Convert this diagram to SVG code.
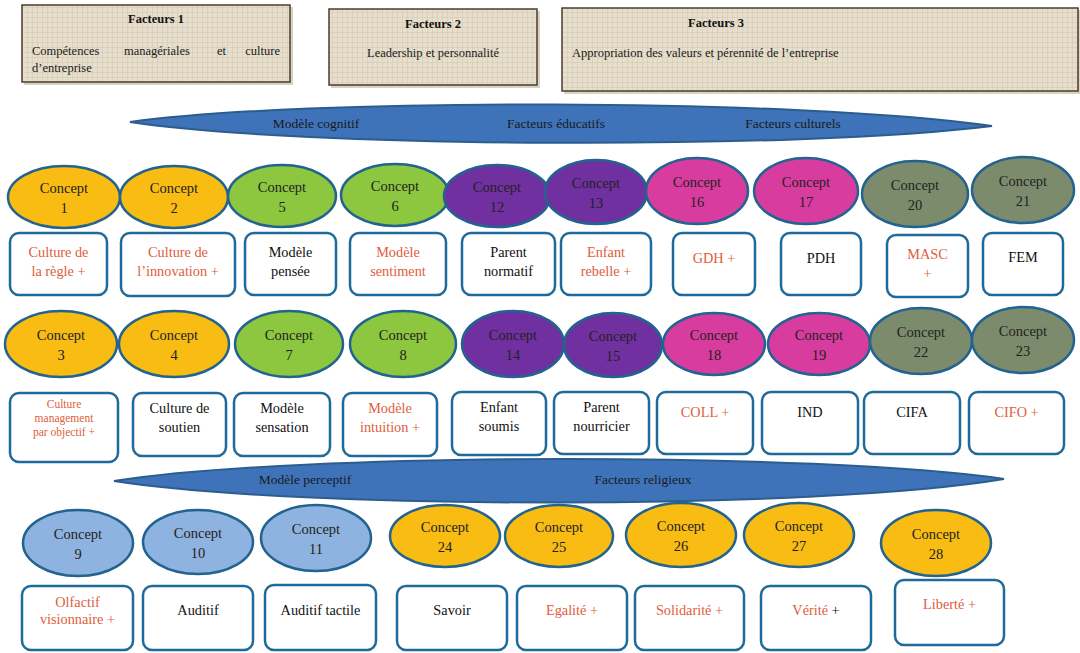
<svg xmlns="http://www.w3.org/2000/svg" width="1080" height="653" viewBox="0 0 1080 653">
<style>
.hdr{fill:url(#burlap);stroke:#4a3c2c;stroke-width:1.5}
.shd{fill:#cbbda5;opacity:0.7}
.ht{font-family:"Liberation Serif","Times New Roman",serif;font-size:12.5px;fill:#1a1a1a}
.hb{font-family:"Liberation Serif","Times New Roman",serif;font-size:12.5px;font-weight:bold;fill:#111;text-anchor:middle}
.band{fill:#3f73b9;stroke:#2b5d8e;stroke-width:2}
.bt{font-family:"Liberation Serif","Times New Roman",serif;font-size:13.5px;fill:#1a1a1a;text-anchor:middle}
.el{stroke:#22638f;stroke-width:2.5}
.or{fill:#f8bc12}.gr{fill:#8dc63f}.pu{fill:#7030a0}.mg{fill:#d93c9f}.gy{fill:#7c8b6c}.lb{fill:#8eb3e0}
.box{fill:#fff;stroke:#1f6a9a;stroke-width:2.5}
.ct{font-family:"Liberation Serif","Times New Roman",serif;font-size:14.5px;fill:#222;text-anchor:middle}
.k{font-family:"Liberation Serif","Times New Roman",serif;font-size:14.3px;fill:#111;text-anchor:middle}
.r{font-family:"Liberation Serif","Times New Roman",serif;font-size:14.3px;fill:#e05d3c;text-anchor:middle}
.rs{font-family:"Liberation Serif","Times New Roman",serif;font-size:11.5px;fill:#e05d3c;text-anchor:middle}
</style>
<defs>
<pattern id="burlap" width="5" height="5" patternUnits="userSpaceOnUse">
<rect width="5" height="5" fill="#e7dfcd"/>
<path d="M0 2.5H5M2.5 0V5" stroke="#d3c6ad" stroke-width="0.8" opacity="0.7"/>
</pattern>
</defs>

<g id="facteurs1">
<rect class="shd" x="24" y="7" width="269" height="78"/>
<rect class="hdr" x="22" y="5" width="268" height="77"/>
<text class="hb" x="156" y="23">Facteurs 1</text>
<text class="ht" y="55"><tspan x="32">Compétences</tspan><tspan x="124">managériales</tspan><tspan x="217">et</tspan><tspan x="280" text-anchor="end">culture</tspan></text>
<text class="ht" x="32" y="72">d’entreprise</text>
</g>
<g id="facteurs2">
<rect class="shd" x="331" y="11" width="209" height="77"/>
<rect class="hdr" x="329" y="9" width="208" height="76"/>
<text class="hb" x="433" y="28">Facteurs 2</text>
<text class="ht" x="433" y="57" text-anchor="middle">Leadership et personnalité</text>
</g>
<g id="facteurs3">
<rect class="shd" x="564" y="10" width="516" height="84"/>
<rect class="hdr" x="562" y="8" width="516" height="83"/>
<text class="hb" x="716" y="27">Facteurs 3</text>
<text class="ht" x="572" y="57">Appropriation des valeurs et pérennité de l’entreprise</text>
</g>

<g id="band-top">
<path class="band" d="M130,122 C300,98 800,98 992,126 C800,150 300,148 130,122 Z"/>
<text class="bt" x="316" y="128">Modèle cognitif</text>
<text class="bt" x="556" y="128">Facteurs éducatifs</text>
<text class="bt" x="793" y="128">Facteurs culturels</text>
</g>

<g id="band-bottom">
<path class="band" d="M114,481 C300,452 820,452 1004,479 C820,510 300,510 114,481 Z"/>
<text class="bt" x="305" y="484">Modèle perceptif</text>
<text class="bt" x="643" y="484">Facteurs religieux</text>
</g>

<g id="connectors"></g>

<!-- Row 1 -->
<g id="c1"><ellipse class="el or" cx="64" cy="197" rx="56" ry="31"/><text class="ct" x="64" y="193">Concept</text><text class="ct" x="64" y="213">1</text>
<rect class="box" x="10" y="233" width="97" height="62" rx="9"/><text class="r" x="58.5" y="257">Culture de</text><text class="r" x="58.5" y="276">la règle +</text></g>
<g id="c2"><ellipse class="el or" cx="174" cy="197" rx="54" ry="31"/><text class="ct" x="174" y="193">Concept</text><text class="ct" x="174" y="213">2</text>
<rect class="box" x="121" y="233" width="114" height="63" rx="9"/><text class="r" x="178" y="257">Culture de</text><text class="r" x="178" y="276">l’innovation +</text></g>
<g id="c5"><ellipse class="el gr" cx="282" cy="196" rx="54" ry="31"/><text class="ct" x="282" y="192">Concept</text><text class="ct" x="282" y="212">5</text>
<rect class="box" x="245" y="233" width="91" height="62" rx="9"/><text class="k" x="290.5" y="257">Modèle</text><text class="k" x="290.5" y="276">pensée</text></g>
<g id="c6"><ellipse class="el gr" cx="395" cy="195" rx="54" ry="31"/><text class="ct" x="395" y="191">Concept</text><text class="ct" x="395" y="211">6</text>
<rect class="box" x="350" y="233" width="96" height="62" rx="9"/><text class="r" x="398" y="257">Modèle</text><text class="r" x="398" y="276">sentiment</text></g>
<g id="c12"><ellipse class="el pu" cx="497" cy="196" rx="53" ry="31"/><text class="ct" x="497" y="192">Concept</text><text class="ct" x="497" y="212">12</text>
<rect class="box" x="462" y="233" width="93" height="62" rx="9"/><text class="k" x="508.5" y="257">Parent</text><text class="k" x="508.5" y="276">normatif</text></g>
<g id="c13"><ellipse class="el pu" cx="596" cy="192" rx="51" ry="32"/><text class="ct" x="596" y="188">Concept</text><text class="ct" x="596" y="208">13</text>
<rect class="box" x="561" y="233" width="90" height="62" rx="9"/><text class="r" x="606" y="257">Enfant</text><text class="r" x="606" y="276">rebelle +</text></g>
<g id="c16"><ellipse class="el mg" cx="697" cy="191" rx="51" ry="33"/><text class="ct" x="697" y="187">Concept</text><text class="ct" x="697" y="207">16</text>
<rect class="box" x="673" y="233" width="82" height="62" rx="9"/><text class="r" x="714" y="263">GDH +</text></g>
<g id="c17"><ellipse class="el mg" cx="806" cy="191" rx="52" ry="33"/><text class="ct" x="806" y="187">Concept</text><text class="ct" x="806" y="207">17</text>
<rect class="box" x="781" y="233" width="80" height="62" rx="9"/><text class="k" x="821" y="263">PDH</text></g>
<g id="c20"><ellipse class="el gy" cx="915" cy="194" rx="53" ry="33"/><text class="ct" x="915" y="190">Concept</text><text class="ct" x="915" y="210">20</text>
<rect class="box" x="887" y="235" width="81" height="62" rx="9"/><text class="r" x="927.5" y="259">MASC</text><text class="r" x="927.5" y="278">+</text></g>
<g id="c21"><ellipse class="el gy" cx="1023" cy="190" rx="51" ry="33"/><text class="ct" x="1023" y="186">Concept</text><text class="ct" x="1023" y="206">21</text>
<rect class="box" x="983" y="233" width="80" height="62" rx="9"/><text class="k" x="1023" y="262">FEM</text></g>

<!-- Row 2 -->
<g id="c3"><ellipse class="el or" cx="61" cy="344" rx="56" ry="33"/><text class="ct" x="61" y="340">Concept</text><text class="ct" x="61" y="360">3</text>
<rect class="box" x="10" y="393" width="108" height="69" rx="9"/><text class="rs" x="64" y="408">Culture</text><text class="rs" x="64" y="422">management</text><text class="rs" x="64" y="436">par objectif +</text></g>
<g id="c4"><ellipse class="el or" cx="174" cy="344" rx="55" ry="33"/><text class="ct" x="174" y="340">Concept</text><text class="ct" x="174" y="360">4</text>
<rect class="box" x="133" y="393" width="93" height="63" rx="9"/><text class="k" x="179.5" y="413">Culture de</text><text class="k" x="179.5" y="432">soutien</text></g>
<g id="c7"><ellipse class="el gr" cx="289" cy="344" rx="54" ry="33"/><text class="ct" x="289" y="340">Concept</text><text class="ct" x="289" y="360">7</text>
<rect class="box" x="234" y="393" width="96" height="63" rx="9"/><text class="k" x="282" y="413">Modèle</text><text class="k" x="282" y="432">sensation</text></g>
<g id="c8"><ellipse class="el gr" cx="403" cy="344" rx="53" ry="33"/><text class="ct" x="403" y="340">Concept</text><text class="ct" x="403" y="360">8</text>
<rect class="box" x="343" y="393" width="94" height="63" rx="9"/><text class="r" x="390" y="413">Modèle</text><text class="r" x="390" y="432">intuition +</text></g>
<g id="c14"><ellipse class="el pu" cx="513" cy="344" rx="51" ry="33"/><text class="ct" x="513" y="340">Concept</text><text class="ct" x="513" y="360">14</text>
<rect class="box" x="452" y="392" width="94" height="63" rx="9"/><text class="k" x="499" y="412">Enfant</text><text class="k" x="499" y="431">soumis</text></g>
<g id="c15"><ellipse class="el pu" cx="613" cy="345" rx="49" ry="32"/><text class="ct" x="613" y="341">Concept</text><text class="ct" x="613" y="361">15</text>
<rect class="box" x="554" y="392" width="95" height="62" rx="9"/><text class="k" x="601.5" y="412">Parent</text><text class="k" x="601.5" y="431">nourricier</text></g>
<g id="c18"><ellipse class="el mg" cx="714" cy="344" rx="51" ry="31"/><text class="ct" x="714" y="340">Concept</text><text class="ct" x="714" y="360">18</text>
<rect class="box" x="657" y="392" width="96" height="62" rx="9"/><text class="r" x="705" y="417">COLL +</text></g>
<g id="c19"><ellipse class="el mg" cx="819" cy="344" rx="51" ry="31"/><text class="ct" x="819" y="340">Concept</text><text class="ct" x="819" y="360">19</text>
<rect class="box" x="762" y="392" width="96" height="62" rx="9"/><text class="k" x="810" y="417">IND</text></g>
<g id="c22"><ellipse class="el gy" cx="921" cy="341" rx="51" ry="33"/><text class="ct" x="921" y="337">Concept</text><text class="ct" x="921" y="357">22</text>
<rect class="box" x="864" y="392" width="96" height="62" rx="9"/><text class="k" x="912" y="417">CIFA</text></g>
<g id="c23"><ellipse class="el gy" cx="1023" cy="340" rx="51" ry="33"/><text class="ct" x="1023" y="336">Concept</text><text class="ct" x="1023" y="356">23</text>
<rect class="box" x="969" y="392" width="95" height="62" rx="9"/><text class="r" x="1016.5" y="417">CIFO +</text></g>

<!-- Row 3 -->
<g id="c9"><ellipse class="el lb" cx="78" cy="543" rx="55" ry="33"/><text class="ct" x="78" y="539">Concept</text><text class="ct" x="78" y="559">9</text>
<rect class="box" x="22" y="586" width="111" height="64" rx="9"/><text class="r" x="77.5" y="607" font-size="12.5px">Olfactif</text><text class="r" x="77.5" y="624" font-size="12.5px">visionnaire +</text></g>
<g id="c10"><ellipse class="el lb" cx="198" cy="542" rx="55" ry="32"/><text class="ct" x="198" y="538">Concept</text><text class="ct" x="198" y="558">10</text>
<rect class="box" x="143" y="586" width="110" height="64" rx="9"/><text class="k" x="198" y="615" font-size="13.5px">Auditif</text></g>
<g id="c11"><ellipse class="el lb" cx="316" cy="538" rx="55" ry="33"/><text class="ct" x="316" y="534">Concept</text><text class="ct" x="316" y="554">11</text>
<rect class="box" x="265" y="585" width="111" height="65" rx="9"/><text class="k" x="320.5" y="615" font-size="13.5px">Auditif tactile</text></g>
<g id="c24"><ellipse class="el or" cx="445" cy="536" rx="55" ry="31"/><text class="ct" x="445" y="532">Concept</text><text class="ct" x="445" y="552">24</text>
<rect class="box" x="397" y="586" width="110" height="64" rx="9"/><text class="k" x="452" y="615" font-size="13.5px">Savoir</text></g>
<g id="c25"><ellipse class="el or" cx="559" cy="536" rx="54" ry="31"/><text class="ct" x="559" y="532">Concept</text><text class="ct" x="559" y="552">25</text>
<rect class="box" x="517" y="586" width="110" height="64" rx="9"/><text class="r" x="572" y="615" font-size="13.5px">Egalité +</text></g>
<g id="c26"><ellipse class="el or" cx="681" cy="535" rx="55" ry="32"/><text class="ct" x="681" y="531">Concept</text><text class="ct" x="681" y="551">26</text>
<rect class="box" x="635" y="586" width="109" height="64" rx="9"/><text class="r" x="689.5" y="615" font-size="13.5px">Solidarité +</text></g>
<g id="c27"><ellipse class="el or" cx="799" cy="535" rx="55" ry="32"/><text class="ct" x="799" y="531">Concept</text><text class="ct" x="799" y="551">27</text>
<rect class="box" x="761" y="586" width="110" height="64" rx="9"/><text class="r" x="816" y="615" font-size="13.5px">Vérité <tspan fill="#111">+</tspan></text></g>
<g id="c28"><ellipse class="el or" cx="936" cy="543" rx="55" ry="33"/><text class="ct" x="936" y="539">Concept</text><text class="ct" x="936" y="559">28</text>
<rect class="box" x="895" y="580" width="109" height="65" rx="9"/><text class="r" x="949.5" y="609" font-size="13.5px">Liberté +</text></g>
</svg>
